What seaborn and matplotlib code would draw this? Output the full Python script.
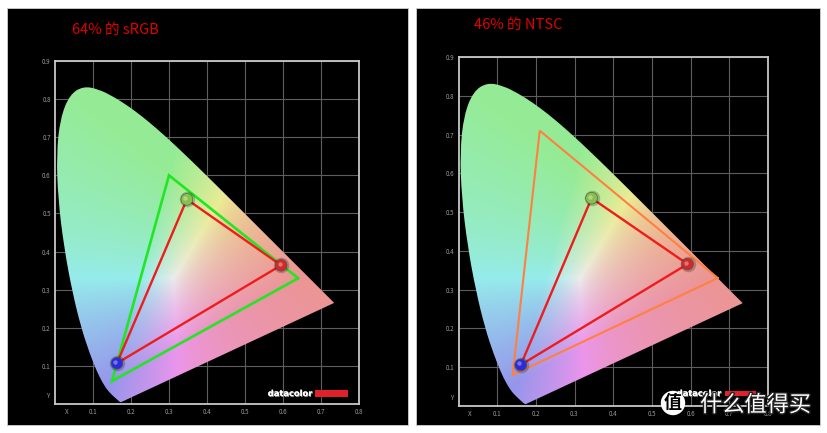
import numpy as np
import matplotlib
matplotlib.use("Agg")
import matplotlib.pyplot as plt
from matplotlib.patches import PathPatch, Rectangle
from matplotlib.path import Path
from matplotlib.transforms import offset_copy
import matplotlib.patheffects as pe
import pandas as pd
import seaborn as sns

# ---------------- data ----------------
# CIE 1931 spectral locus (x, y) from 380 nm to 700 nm
locus_x = [0.1741, 0.1733, 0.1714, 0.1689, 0.1644, 0.1566, 0.1440, 0.1355, 0.1241,
           0.1096, 0.0913, 0.0687, 0.0454, 0.0235, 0.0082, 0.0039, 0.0139, 0.0389,
           0.0743, 0.1142, 0.1547, 0.1929, 0.2296, 0.2658, 0.3016, 0.3373, 0.3731,
           0.4087, 0.4441, 0.4788, 0.5125, 0.5448, 0.5752, 0.6029, 0.6270, 0.6658,
           0.6915, 0.7190, 0.7300, 0.7347]
locus_y = [0.0050, 0.0048, 0.0051, 0.0069, 0.0109, 0.0177, 0.0297, 0.0399, 0.0578,
           0.0868, 0.1327, 0.2007, 0.2950, 0.4127, 0.5384, 0.6548, 0.7502, 0.8120,
           0.8338, 0.8262, 0.8059, 0.7816, 0.7543, 0.7243, 0.6923, 0.6589, 0.6245,
           0.5896, 0.5547, 0.5202, 0.4866, 0.4544, 0.4242, 0.3965, 0.3725, 0.3340,
           0.3083, 0.2809, 0.2700, 0.2653]

primaries = ["R", "G", "B"]
srgb_x = [0.64, 0.30, 0.15]
srgb_y = [0.33, 0.60, 0.06]
ntsc_x = [0.67, 0.21, 0.14]
ntsc_y = [0.33, 0.71, 0.08]
meas_left_x = [0.595, 0.347, 0.163]
meas_left_y = [0.364, 0.537, 0.107]
meas_right_x = [0.592, 0.344, 0.161]
meas_right_y = [0.366, 0.536, 0.106]

x_ticks = [0.1, 0.2, 0.3, 0.4, 0.5, 0.6, 0.7, 0.8]
x_labels = ["0.1", "0.2", "0.3", "0.4", "0.5", "0.6", "0.7", "0.8"]
y_ticks = [0.1, 0.2, 0.3, 0.4, 0.5, 0.6, 0.7, 0.8, 0.9]
y_labels = ["0.1", "0.2", "0.3", "0.4", "0.5", "0.6", "0.7", "0.8", "0.9"]
titles = ["64% 的 sRGB", "46% 的 NTSC"]

# ---------------- style ----------------
sns.set_theme(style="dark", rc={
    "axes.facecolor": "black",
    "figure.facecolor": "white",
    "lines.solid_joinstyle": "miter",
})
plt.rcParams["font.family"] = ["Noto Sans CJK SC", "DejaVu Sans"]

W, H = 827, 433
fig = plt.figure(figsize=(W / 100, H / 100), dpi=100)

# black panels
for (px0, py0, px1, py1) in [(7, 8, 408, 425), (416, 8, 820, 425)]:
    fig.patches.append(Rectangle((px0 / W, 1 - py1 / H), (px1 - px0) / W, (py1 - py0) / H,
                                 transform=fig.transFigure, facecolor="black",
                                 edgecolor="#d0d0d0", linewidth=0.6, zorder=-5))


def chroma_image(n=500):
    xs = np.linspace(0, 0.8, n)
    ys = np.maximum(np.linspace(0.9, 0.0, n), 1e-3)
    xx, yy = np.meshgrid(xs, ys)
    X = xx / yy
    Y = np.ones_like(xx)
    Z = (1 - xx - yy) / yy
    R = 3.2406 * X - 1.5372 * Y - 0.4986 * Z
    G = -0.9689 * X + 1.8758 * Y + 0.0415 * Z
    B = 0.0557 * X - 0.2040 * Y + 1.0570 * Z
    rgb = np.clip(np.stack([R, G, B], axis=-1), 0, None)
    rgb = rgb / (rgb.max(axis=-1, keepdims=True) + 1e-9)
    rgb = rgb ** 0.85
    return 0.585 + 0.34 * rgb


IMG = chroma_image()


def locus_path():
    pts = np.column_stack([locus_x, locus_y])
    verts = [pts[0]]
    codes = [Path.MOVETO]
    for i in range(1, len(pts) - 1):
        mid = (pts[i] + pts[i + 1]) / 2
        verts += [pts[i], mid]
        codes += [Path.CURVE3, Path.CURVE3]
    verts += [pts[-1], pts[0], pts[0]]
    codes += [Path.LINETO, Path.LINETO, Path.CLOSEPOLY]
    return Path(np.array(verts), codes)


def make_axes(rect_px):
    x0, x1, ytop, ybot = rect_px
    ax = fig.add_axes([x0 / W, 1 - ybot / H, (x1 - x0) / W, (ybot - ytop) / H])
    ax.set_zorder(2)
    ax.set_facecolor("black")
    ax.set_xlim(0, 0.8)
    ax.set_ylim(0, 0.9)
    ax.set_xticks(x_ticks, x_labels)
    ax.set_yticks(y_ticks, y_labels)
    ax.set_xticks([0.03], ["X"], minor=True)
    ax.set_yticks([0.024], ["Y"], minor=True)
    ax.tick_params(which="both", length=0, pad=3, labelsize=4.5, colors="#9a9a9a")
    ax.grid(True, which="major", color="#5e5e5e", linewidth=0.8)
    ax.grid(False, which="minor")
    for s in ax.spines.values():
        s.set_color("#c8c8c8")
        s.set_linewidth(1.3)
        s.set_zorder(6)
    ax.set_axisbelow(True)
    # horseshoe
    patch = PathPatch(locus_path(), facecolor="none", edgecolor="none")
    ax.add_patch(patch)
    im = ax.imshow(IMG, extent=(0, 0.8, 0, 0.9), origin="upper", aspect="auto",
                   interpolation="bilinear", zorder=1)
    im.set_clip_path(patch)
    ax.set_xlim(0, 0.8)
    ax.set_ylim(0, 0.9)
    return ax


def triangle(ax, xs, ys, color, lw, z):
    df = pd.DataFrame({"x": list(xs) + [xs[0]], "y": list(ys) + [ys[0]]})
    sns.lineplot(data=df, x="x", y="y", sort=False, estimator=None, color=color,
                 linewidth=lw, ax=ax, zorder=z)


def balls(ax, xs, ys):
    df = pd.DataFrame({"x": xs, "y": ys, "p": primaries})
    sns.scatterplot(data=df, x="x", y="y", s=125, color="black", alpha=0.22,
                    linewidth=0, legend=False, ax=ax, zorder=7)
    sns.scatterplot(data=df, x="x", y="y", hue="p", s=72,
                    palette={"R": "#cf2a2a", "G": "#86c24a", "B": "#2b2bd6"},
                    edgecolor="#505050", linewidth=0.4, legend=False, ax=ax, zorder=8)
    sns.scatterplot(data=df, x="x", y="y", s=10, color="white", alpha=0.35,
                    linewidth=0, legend=False, ax=ax, zorder=9)
    ax.collections[-1].set_offset_transform(
        offset_copy(ax.transData, fig=fig, x=-1.5, y=1.5, units="dots"))


def datacolor(ax, tx, bar_x0, bar_x1, by0, by1):
    ax.text(tx, (by0 + by1) / 2, "datacolor", transform=ax.transAxes, color="white",
            fontsize=6, fontweight="bold", ha="left", va="center",
            family="DejaVu Sans", zorder=10,
            path_effects=[pe.withSimplePatchShadow(offset=(0.5, -0.7),
                                                    shadow_rgbFace="#8a8a8a", alpha=1),
                          pe.Normal()])
    ax.add_patch(Rectangle((bar_x0, by0), bar_x1 - bar_x0, by1 - by0,
                           transform=ax.transAxes, facecolor="#e0202a",
                           edgecolor="none", zorder=10))


# ---------------- left panel ----------------
axL = make_axes((55, 359, 61, 404))
triangle(axL, srgb_x, srgb_y, "#22e622", 1.9, 4)
triangle(axL, meas_left_x, meas_left_y, "#ee1c1c", 1.7, 5)
balls(axL, meas_left_x, meas_left_y)
datacolor(axL, 0.70, 0.855, 0.965, 0.020, 0.041)
axL.set_xlabel("")
axL.set_ylabel("")

# ---------------- right panel ----------------
axR = make_axes((458.5, 768, 57, 406))
triangle(axR, ntsc_x, ntsc_y, "#ff8040", 1.5, 4)
triangle(axR, meas_right_x, meas_right_y, "#ee1c1c", 1.7, 5)
balls(axR, meas_right_x, meas_right_y)
datacolor(axR, 0.705, 0.86, 0.962, 0.029, 0.043)
axR.set_xlabel("")
axR.set_ylabel("")

# titles
fig.text(72 / W, 1 - 30 / H, titles[0], color="#e00000", fontsize=10.5, ha="left", va="center")
fig.text(474 / W, 1 - 25 / H, titles[1], color="#e00000", fontsize=10.5, ha="left", va="center")

# watermark
fig.text(673 / W, 1 - 403 / H, "值", color="black", fontsize=13, ha="center", va="center",
         fontweight="bold", zorder=20,
         bbox=dict(boxstyle="circle,pad=0.15", facecolor="white", edgecolor="none"))
fig.text(700 / W, 1 - 405 / H, "什么值得买", color="white", fontsize=16, ha="left",
         va="center", zorder=20,
         path_effects=[pe.withStroke(linewidth=2, foreground="#222222")])

fig.savefig("out.png", dpi=100, facecolor="white")
